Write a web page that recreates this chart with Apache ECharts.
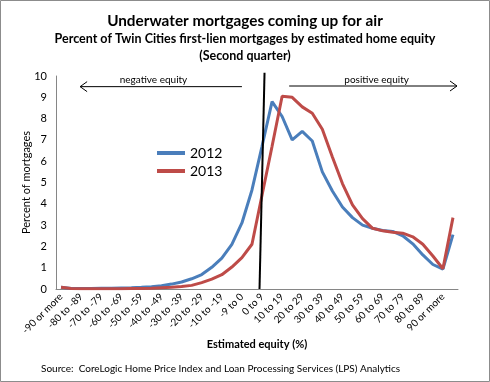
<!DOCTYPE html>
<html>
<head>
<meta charset="utf-8">
<script src="https://cdn.jsdelivr.net/npm/echarts@6/dist/echarts.min.js"></script>
<style>
html,body{margin:0;padding:0;background:#fff;}
#c{width:490px;height:382px;}
</style>
</head>
<body>
<div id="c"></div>
<script>
const tickLabels = ['-90 or more','-80 to -89','-70 to -79','-60 to -69','-50 to -59','-40 to -49','-30 to -39','-20 to -29','-10 to -19','-9 to 0','0 to 9','10 to 19','20 to 29','30 to 39','40 to 49','50 to 59','60 to 69','70 to 79','80 to 89','90 or more'];
const seriesNames = ['2012', '2013'];
const values2012 = [0.08,0.02,0.02,0.02,0.03,0.04,0.05,0.06,0.08,0.11,0.15,0.23,0.33,0.48,0.68,1.02,1.45,2.1,3.1,4.65,6.7,8.8,8.1,7.0,7.4,6.95,5.5,4.6,3.85,3.35,3.0,2.85,2.75,2.7,2.5,2.12,1.6,1.15,0.93,2.55];
const values2013 = [0.08,0.02,0.01,0.01,0.01,0.01,0.01,0.02,0.02,0.03,0.06,0.08,0.12,0.17,0.3,0.46,0.67,1.03,1.47,2.1,4.4,6.7,9.05,9.0,8.55,8.25,7.5,6.2,4.95,3.95,3.3,2.85,2.73,2.66,2.62,2.45,2.1,1.55,0.95,3.35];
const yTicks = [0,1,2,3,4,5,6,7,8,9,10];

// 40 buckets; a tick label on every other bucket
const categories = [];
tickLabels.forEach(function(t){ categories.push(t); categories.push(''); });

const FONT = 'Lato, "Open Sans", sans-serif';
const chart = echarts.init(document.getElementById('c'), null, {renderer:'canvas'});

const option = {
  animation: false,
  backgroundColor: '#fff',
  textStyle: {fontFamily: FONT, color: '#000'},
  title: [
    {text: 'Underwater mortgages coming up for air', left: 'center', top: 14, padding: 0,
     textStyle: {fontFamily: FONT, fontSize: 15.3, fontWeight: 'bold', color: '#000'}},
    {text: 'Percent of Twin Cities first-lien mortgages by estimated home equity',
     left: 'center', top: 32, padding: 0,
     textStyle: {fontFamily: FONT, fontSize: 12.5, fontWeight: 'bold', color: '#000'}},
    {text: '(Second quarter)',
     left: 'center', top: 49, padding: 0,
     textStyle: {fontFamily: FONT, fontSize: 12.5, fontWeight: 'bold', color: '#000'}},
    {text: 'Source:  CoreLogic Home Price Index and Loan Processing Services (LPS) Analytics',
     left: 41, top: 364, padding: 0, textStyle: {fontFamily: FONT, fontSize: 10, fontWeight: 'normal', color: '#000'}}
  ],
  legend: {
    data: seriesNames, orient: 'vertical', left: 157, top: 146, padding: 0,
    itemWidth: 28, itemHeight: 4, itemGap: 4, icon: 'rect',
    textStyle: {fontFamily: FONT, fontSize: 14, color: '#000'}
  },
  grid: {left: 56, right: 32, top: 76, bottom: 93, containLabel: false},
  xAxis: {
    type: 'category', data: categories, boundaryGap: true,
    name: 'Estimated equity (%)', nameLocation: 'middle', nameGap: 50, nameMoveOverlap: false,
    nameTextStyle: {fontFamily: FONT, fontSize: 11, fontWeight: 'bold', color: '#000'},
    axisLine: {lineStyle: {color: '#868686'}},
    axisTick: {show: false},
    axisLabel: {interval: 1, rotate: 45, margin: 6, fontSize: 10, color: '#000', fontFamily: FONT}
  },
  yAxis: {
    type: 'value', min: yTicks[0], max: yTicks[yTicks.length-1], interval: 1,
    name: 'Percent of mortgages', nameLocation: 'middle', nameGap: 24, nameRotate: 90, nameMoveOverlap: false,
    nameTextStyle: {fontFamily: FONT, fontSize: 11, color: '#000'},
    axisLine: {show: true, lineStyle: {color: '#868686'}},
    axisTick: {show: false},
    splitLine: {show: false},
    axisLabel: {margin: 9, fontSize: 11, color: '#000', fontFamily: FONT}
  },
  series: [
    {name: seriesNames[0], type: 'line', data: values2012, symbol: 'none',
     lineStyle: {width: 3, color: '#4a7ebb'}, itemStyle: {color: '#4a7ebb'}},
    {name: seriesNames[1], type: 'line', data: values2013, symbol: 'none',
     lineStyle: {width: 3, color: '#be4b48'}, itemStyle: {color: '#be4b48'}}
  ]
};
chart.setOption(option);

// annotations placed through the chart's own scales
function px(ci, v) {
  const p0 = chart.convertToPixel({gridIndex: 0}, [0, v]);
  const p1 = chart.convertToPixel({gridIndex: 0}, [1, v]);
  return [p0[0] + ci * (p1[0] - p0[0]), p0[1]];
}
const nA = px(1.9, 9.5), nB = px(18.0, 9.5);
const pA = px(22.7, 9.53), pB = px(39.4, 9.53);
const zB = px(19.75, 0), zT = px(20.25, 10.15);
const nT = px(9.2, 9.8), pT = px(31.4, 9.83);
const ah = 7, aw = 5;
chart.setOption({
  graphic: [
    {type: 'rect', shape: {x: 0.5, y: 0.5, width: 489, height: 381}, style: {fill: 'none', stroke: '#8c8c8c', lineWidth: 1}, silent: true},
    {type: 'line', shape: {x1: nA[0], y1: nA[1], x2: nB[0], y2: nB[1]}, style: {stroke: '#000', lineWidth: 1}},
    {type: 'polyline', shape: {points: [[nA[0]+ah, nA[1]-aw],[nA[0], nA[1]],[nA[0]+ah, nA[1]+aw]]}, style: {stroke: '#000', lineWidth: 1, fill: 'none'}},
    {type: 'line', shape: {x1: pA[0], y1: pA[1], x2: pB[0], y2: pB[1]}, style: {stroke: '#000', lineWidth: 1}},
    {type: 'polyline', shape: {points: [[pB[0]-ah, pB[1]-aw],[pB[0], pB[1]],[pB[0]-ah, pB[1]+aw]]}, style: {stroke: '#000', lineWidth: 1, fill: 'none'}},
    {type: 'line', shape: {x1: zB[0], y1: zB[1], x2: zT[0], y2: zT[1]}, style: {stroke: '#000', lineWidth: 2}, z: 10},
    {type: 'text', x: nT[0], y: nT[1], style: {text: 'negative equity', fontFamily: FONT, fontSize: 10, fill: '#000', textAlign: 'center', textVerticalAlign: 'middle'}},
    {type: 'text', x: pT[0], y: pT[1], style: {text: 'positive equity', fontFamily: FONT, fontSize: 10, fill: '#000', textAlign: 'center', textVerticalAlign: 'middle'}}
  ]
});
</script>
</body>
</html>
